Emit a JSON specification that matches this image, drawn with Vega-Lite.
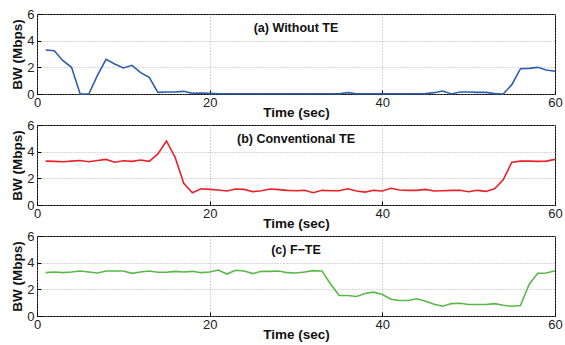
{
  "$schema": "https://vega.github.io/schema/vega-lite/v6.json",
  "padding": {"left": 10, "top": 7, "right": 5, "bottom": 5},
  "background": "white",
  "bounds": "flush",
  "spacing": 31,
  "datasets": {
    "a": [
      {"t":1,"bw":3.3},{"t":2,"bw":3.25},{"t":3,"bw":2.5},{"t":4,"bw":2.0},{"t":5,"bw":0},{"t":6,"bw":0},{"t":7,"bw":1.4},{"t":8,"bw":2.6},{"t":9,"bw":2.25},{"t":10,"bw":1.95},
      {"t":11,"bw":2.15},{"t":12,"bw":1.6},{"t":13,"bw":1.25},{"t":14,"bw":0.12},{"t":15,"bw":0.15},{"t":16,"bw":0.15},{"t":17,"bw":0.2},{"t":18,"bw":0.05},{"t":19,"bw":0.07},{"t":20,"bw":0.05},
      {"t":21,"bw":0.02},{"t":22,"bw":0.02},{"t":23,"bw":0.02},{"t":24,"bw":0.02},{"t":25,"bw":0.02},{"t":26,"bw":0.02},{"t":27,"bw":0.02},{"t":28,"bw":0.02},{"t":29,"bw":0.02},{"t":30,"bw":0.02},
      {"t":31,"bw":0.02},{"t":32,"bw":0.02},{"t":33,"bw":0.02},{"t":34,"bw":0.02},{"t":35,"bw":0.02},{"t":36,"bw":0.1},{"t":37,"bw":0.02},{"t":38,"bw":0.02},{"t":39,"bw":0.02},{"t":40,"bw":0.02},
      {"t":41,"bw":0.02},{"t":42,"bw":0.02},{"t":43,"bw":0.02},{"t":44,"bw":0.02},{"t":45,"bw":0.03},{"t":46,"bw":0.1},{"t":47,"bw":0.22},{"t":48,"bw":0.0},{"t":49,"bw":0.15},{"t":50,"bw":0.15},
      {"t":51,"bw":0.12},{"t":52,"bw":0.12},{"t":53,"bw":0.03},{"t":54,"bw":0.0},{"t":55,"bw":0.7},{"t":56,"bw":1.9},{"t":57,"bw":1.92},{"t":58,"bw":2.0},{"t":59,"bw":1.8},{"t":60,"bw":1.7}
    ],
    "b": [
      {"t":1,"bw":3.29},{"t":2,"bw":3.27},{"t":3,"bw":3.24},{"t":4,"bw":3.29},{"t":5,"bw":3.34},{"t":6,"bw":3.24},{"t":7,"bw":3.34},{"t":8,"bw":3.42},{"t":9,"bw":3.21},{"t":10,"bw":3.32},
      {"t":11,"bw":3.27},{"t":12,"bw":3.37},{"t":13,"bw":3.27},{"t":14,"bw":3.83},{"t":15,"bw":4.8},{"t":16,"bw":3.57},{"t":17,"bw":1.63},{"t":18,"bw":0.92},{"t":19,"bw":1.22},{"t":20,"bw":1.17},
      {"t":21,"bw":1.12},{"t":22,"bw":1.05},{"t":23,"bw":1.2},{"t":24,"bw":1.17},{"t":25,"bw":1.0},{"t":26,"bw":1.07},{"t":27,"bw":1.2},{"t":28,"bw":1.15},{"t":29,"bw":1.1},{"t":30,"bw":1.07},
      {"t":31,"bw":1.1},{"t":32,"bw":0.92},{"t":33,"bw":1.1},{"t":34,"bw":1.07},{"t":35,"bw":1.07},{"t":36,"bw":1.22},{"t":37,"bw":1.05},{"t":38,"bw":0.97},{"t":39,"bw":1.1},{"t":40,"bw":1.05},
      {"t":41,"bw":1.25},{"t":42,"bw":1.12},{"t":43,"bw":1.1},{"t":44,"bw":1.1},{"t":45,"bw":1.17},{"t":46,"bw":1.05},{"t":47,"bw":1.07},{"t":48,"bw":1.1},{"t":49,"bw":1.1},{"t":50,"bw":1.0},
      {"t":51,"bw":1.1},{"t":52,"bw":1.02},{"t":53,"bw":1.22},{"t":54,"bw":1.89},{"t":55,"bw":3.21},{"t":56,"bw":3.29},{"t":57,"bw":3.29},{"t":58,"bw":3.27},{"t":59,"bw":3.29},{"t":60,"bw":3.42}
    ],
    "c": [
      {"t":1,"bw":3.25},{"t":2,"bw":3.3},{"t":3,"bw":3.25},{"t":4,"bw":3.3},{"t":5,"bw":3.38},{"t":6,"bw":3.3},{"t":7,"bw":3.23},{"t":8,"bw":3.38},{"t":9,"bw":3.38},{"t":10,"bw":3.38},
      {"t":11,"bw":3.2},{"t":12,"bw":3.3},{"t":13,"bw":3.38},{"t":14,"bw":3.28},{"t":15,"bw":3.28},{"t":16,"bw":3.35},{"t":17,"bw":3.3},{"t":18,"bw":3.35},{"t":19,"bw":3.25},{"t":20,"bw":3.3},
      {"t":21,"bw":3.45},{"t":22,"bw":3.15},{"t":23,"bw":3.43},{"t":24,"bw":3.38},{"t":25,"bw":3.18},{"t":26,"bw":3.35},{"t":27,"bw":3.35},{"t":28,"bw":3.38},{"t":29,"bw":3.25},{"t":30,"bw":3.23},
      {"t":31,"bw":3.3},{"t":32,"bw":3.4},{"t":33,"bw":3.38},{"t":34,"bw":2.4},{"t":35,"bw":1.54},{"t":36,"bw":1.54},{"t":37,"bw":1.46},{"t":38,"bw":1.69},{"t":39,"bw":1.79},{"t":40,"bw":1.61},
      {"t":41,"bw":1.26},{"t":42,"bw":1.16},{"t":43,"bw":1.16},{"t":44,"bw":1.29},{"t":45,"bw":1.11},{"t":46,"bw":0.88},{"t":47,"bw":0.73},{"t":48,"bw":0.93},{"t":49,"bw":0.96},{"t":50,"bw":0.86},
      {"t":51,"bw":0.86},{"t":52,"bw":0.86},{"t":53,"bw":0.93},{"t":54,"bw":0.81},{"t":55,"bw":0.73},{"t":56,"bw":0.78},{"t":57,"bw":2.37},{"t":58,"bw":3.2},{"t":59,"bw":3.23},{"t":60,"bw":3.4}
    ]
  },
  "config": {
    "font": "Liberation Sans",
    "view": {"stroke": "#000000", "strokeWidth": 1},
    "axis": {
      "domain": false,
      "grid": true,
      "gridColor": "#9a9a9a",
      "gridDash": [1, 2],
      "gridWidth": 0.8,
      "tickColor": "#000000",
      "tickSize": -4,
      "labelFontSize": 13,
      "labelColor": "#222222",
      "labelFont": "Liberation Sans",
      "titleFont": "Liberation Sans",
      "titleFontSize": 13.5,
      "titleFontWeight": "bold",
      "titleColor": "#111111"
    },
    "axisX": {"labelPadding": 6, "titlePadding": -4, "labelFlush": false},
    "axisY": {"labelPadding": 7, "titlePadding": 2},
    "title": {"font": "Liberation Sans", "fontSize": 12.5, "fontWeight": "bold", "color": "#111111", "offset": -26, "anchor": "middle"}
  },
  "vconcat": [
    {
      "width": 518, "height": 80,
      "title": "(a) Without TE",
      "data": {"name": "a"},
      "mark": {"type": "line", "color": "#2F5EAD", "strokeWidth": 1.6},
      "encoding": {
        "x": {"field": "t", "type": "quantitative", "scale": {"domain": [0, 60], "nice": false}, "axis": {"values": [0, 20, 40, 60], "title": "Time (sec)"}},
        "y": {"field": "bw", "type": "quantitative", "scale": {"domain": [0, 6], "nice": false}, "axis": {"values": [0, 2, 4, 6], "title": "BW (Mbps)"}}
      }
    },
    {
      "width": 518, "height": 80,
      "title": "(b) Conventional TE",
      "data": {"name": "b"},
      "mark": {"type": "line", "color": "#E8222A", "strokeWidth": 1.6},
      "encoding": {
        "x": {"field": "t", "type": "quantitative", "scale": {"domain": [0, 60], "nice": false}, "axis": {"values": [0, 20, 40, 60], "title": "Time (sec)"}},
        "y": {"field": "bw", "type": "quantitative", "scale": {"domain": [0, 6], "nice": false}, "axis": {"values": [0, 2, 4, 6], "title": "BW (Mbps)"}}
      }
    },
    {
      "width": 518, "height": 80,
      "title": "(c) F\u2212TE",
      "data": {"name": "c"},
      "mark": {"type": "line", "color": "#58B947", "strokeWidth": 1.6},
      "encoding": {
        "x": {"field": "t", "type": "quantitative", "scale": {"domain": [0, 60], "nice": false}, "axis": {"values": [0, 20, 40, 60], "title": "Time (sec)"}},
        "y": {"field": "bw", "type": "quantitative", "scale": {"domain": [0, 6], "nice": false}, "axis": {"values": [0, 2, 4, 6], "title": "BW (Mbps)"}}
      }
    }
  ]
}
